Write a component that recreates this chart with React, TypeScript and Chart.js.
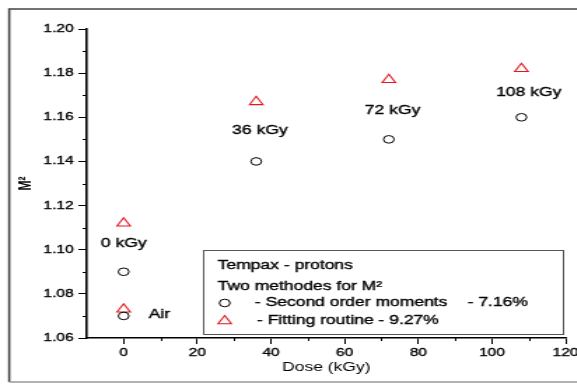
import React, { useEffect, useRef } from "react";
import { Chart, registerables } from "chart.js";

Chart.register(...registerables);

// ---- data ----
const doses = [0, 36, 72, 108];
const secondOrderMoments = [1.09, 1.14, 1.15, 1.16];
const fittingRoutine = [1.112, 1.167, 1.177, 1.182];
const airDose = [0];
const airSecondOrder = [1.07];
const airFitting = [1.073];

const xTicks = [0, 20, 40, 60, 80, 100, 120];
const xMinorTicks = [10, 30, 50, 70, 90, 110];
const yTicks = [1.06, 1.08, 1.1, 1.12, 1.14, 1.16, 1.18, 1.2];
const yMinorTicks = [1.07, 1.09, 1.11, 1.13, 1.15, 1.17, 1.19];

const pointLabels = ["0 kGy", "36 kGy", "72 kGy", "108 kGy"];
const pointLabelX = [0, 37, 73, 110];
const pointLabelY = [1.103, 1.154, 1.163, 1.171];
const airLabel = "Air";
const airLabelX = [6.8];
const airLabelY = [1.0707];

const legendTitle1 = "Tempax - protons";
const legendTitle2 = "Two methodes for M\u00B2";
const legendSeries1 = "- Second order moments";
const legendSeries1Pct = "- 7.16%";
const legendSeries2 = "- Fitting routine - 9.27%";

const xTitle = "Dose (kGy)";
const yTitle = "M\u00B2";

// ---- layout (canvas is drawn narrow, then stretched horizontally) ----
const STRETCH = 1.4;
const W = 412;
const H = 384;
const RED = "rgb(228,24,32)";
const FONT = "'Liberation Sans', Arial, sans-serif";
const TEXT_STROKE = 0.35;

function drawTriangle(ctx: CanvasRenderingContext2D, x: number, y: number, r: number) {
  let rad = 0;
  ctx.beginPath();
  for (let i = 0; i < 3; i++) {
    const px = x + Math.sin(rad) * r;
    const py = y - Math.cos(rad) * r;
    if (i === 0) ctx.moveTo(px, py);
    else ctx.lineTo(px, py);
    rad += (2 * Math.PI) / 3;
  }
  ctx.closePath();
  ctx.stroke();
}

function heavyText(ctx: CanvasRenderingContext2D, t: string, x: number, y: number) {
  ctx.fillText(t, x, y);
  ctx.strokeText(t, x, y);
}

const decorPlugin = {
  id: "decor",
  beforeDraw(chart: any) {
    const ctx = chart.ctx as CanvasRenderingContext2D;
    ctx.save();
    ctx.fillStyle = "#fff";
    ctx.fillRect(0, 0, chart.width, chart.height);
    // outer frame
    ctx.strokeStyle = "#444";
    ctx.lineWidth = 1.6;
    ctx.beginPath();
    ctx.moveTo(6.6, 382);
    ctx.lineTo(6.6, 9);
    ctx.lineTo(chart.width + 2, 9);
    ctx.stroke();
    ctx.strokeStyle = "#999";
    ctx.lineWidth = 1.3;
    ctx.beginPath();
    ctx.moveTo(6.6, 382);
    ctx.lineTo(chart.width + 2, 382);
    ctx.stroke();
    ctx.restore();
  },
  afterDraw(chart: any) {
    const ctx = chart.ctx as CanvasRenderingContext2D;
    const xs = chart.scales.x;
    const ys = chart.scales.y;
    const area = chart.chartArea;
    ctx.save();
    // minor ticks
    ctx.strokeStyle = "#000";
    ctx.lineWidth = 1;
    ctx.beginPath();
    xMinorTicks.forEach((v) => {
      const px = Math.round(xs.getPixelForValue(v)) + 0.5;
      ctx.moveTo(px, area.bottom);
      ctx.lineTo(px, area.bottom + 3);
    });
    yMinorTicks.forEach((v) => {
      const py = Math.round(ys.getPixelForValue(v)) + 0.5;
      ctx.moveTo(area.left, py);
      ctx.lineTo(area.left - 3, py);
    });
    ctx.stroke();

    // point annotations
    ctx.fillStyle = "#000";
    ctx.strokeStyle = "#000";
    ctx.lineWidth = TEXT_STROKE;
    ctx.font = `12.5px ${FONT}`;
    ctx.textBaseline = "middle";
    ctx.textAlign = "center";
    pointLabels.forEach((t, i) => {
      heavyText(ctx, t, xs.getPixelForValue(pointLabelX[i]), ys.getPixelForValue(pointLabelY[i]));
    });
    ctx.textAlign = "left";
    heavyText(ctx, airLabel, xs.getPixelForValue(airLabelX[0]), ys.getPixelForValue(airLabelY[0]));

    // legend box
    const bl = area.left + 83;
    const br = area.right - 2;
    const bt = area.top + 221;
    const bb = area.bottom - 4;
    ctx.strokeStyle = "#555";
    ctx.lineWidth = 1;
    ctx.strokeRect(bl + 0.5, bt + 0.5, br - bl, bb - bt);
    const tx = bl + 10.5;
    ctx.strokeStyle = "#000";
    ctx.lineWidth = TEXT_STROKE;
    heavyText(ctx, legendTitle1, tx, bt + 16);
    heavyText(ctx, legendTitle2, tx, bt + 36.5);
    heavyText(ctx, legendSeries1, tx + 26.5, bt + 53);
    heavyText(ctx, legendSeries1Pct, tx + 178.5, bt + 53);
    heavyText(ctx, legendSeries2, tx + 28, bt + 70.5);
    ctx.strokeStyle = "#000";
    ctx.lineWidth = 1;
    ctx.beginPath();
    ctx.arc(tx + 5, bt + 53, 3.8, 0, Math.PI * 2);
    ctx.stroke();
    ctx.strokeStyle = RED;
    ctx.lineWidth = 1.1;
    drawTriangle(ctx, tx + 5, bt + 71, 5.5);
    ctx.restore();
  },
};

export default function App() {
  const canvasRef = useRef<HTMLCanvasElement | null>(null);

  useEffect(() => {
    const canvas = canvasRef.current;
    if (!canvas) return;
    const mk = (xs: number[], ys: number[]) => xs.map((x, i) => ({ x, y: ys[i] }));
    const chart = new Chart(canvas, {
      type: "scatter",
      data: {
        datasets: [
          {
            label: "Second order moments",
            data: [...mk(doses, secondOrderMoments), ...mk(airDose, airSecondOrder)],
            pointStyle: "circle",
            pointRadius: 3.8,
            borderColor: "#000",
            backgroundColor: "rgba(0,0,0,0)",
            borderWidth: 1,
          },
          {
            label: "Fitting routine",
            data: [...mk(doses, fittingRoutine), ...mk(airDose, airFitting)],
            pointStyle: "triangle",
            pointRadius: 5.5,
            borderColor: RED,
            backgroundColor: "rgba(0,0,0,0)",
            borderWidth: 1.1,
          },
        ],
      },
      options: {
        animation: false,
        responsive: false,
        events: [],
        layout: { padding: { top: 29, right: 8, left: 0, bottom: 0 } },
        plugins: {
          legend: { display: false },
          tooltip: { enabled: false },
        },
        scales: {
          x: {
            type: "linear",
            min: -10,
            max: 120,
            afterBuildTicks: (s: any) => {
              s.ticks = xTicks.map((v) => ({ value: v }));
            },
            afterFit: (s: any) => {
              s.height = 46;
              s.paddingRight = 0;
              s.paddingLeft = 0;
            },
            grid: {
              display: true,
              drawOnChartArea: false,
              drawTicks: true,
              tickLength: 6,
              color: "#000",
              lineWidth: 1,
            },
            border: { display: true, color: "#000", width: 1.6 },
            ticks: {
              color: "#000",
              textStrokeColor: "#000",
              textStrokeWidth: TEXT_STROKE,
              font: { family: FONT, size: 11 },
              padding: 2,
              maxRotation: 0,
              autoSkip: false,
              callback: (v: any) => String(v),
            },
            title: {
              display: true,
              text: xTitle,
              color: "#000",
              font: { family: FONT, size: 12.5 },
              padding: { top: 0, bottom: 9 },
            },
          },
          y: {
            type: "linear",
            min: 1.06,
            max: 1.2,
            afterBuildTicks: (s: any) => {
              s.ticks = yTicks.map((v) => ({ value: v }));
            },
            afterFit: (s: any) => {
              s.width = 62;
            },
            grid: {
              display: true,
              drawOnChartArea: false,
              drawTicks: true,
              tickLength: 6,
              color: "#000",
              lineWidth: 1,
            },
            border: { display: true, color: "#000", width: 1.6 },
            ticks: {
              color: "#000",
              textStrokeColor: "#000",
              textStrokeWidth: TEXT_STROKE,
              font: { family: FONT, size: 11 },
              padding: 3.5,
              autoSkip: false,
              callback: (v: any) => Number(v).toFixed(2),
            },
            title: {
              display: true,
              text: yTitle,
              color: "#000",
              font: { family: FONT, size: 12, weight: "bold" },
              padding: { top: 11, bottom: 0 },
            },
          },
        },
      },
      plugins: [decorPlugin],
    } as any);
    return () => chart.destroy();
  }, []);

  return (
    <div
      style={{
        position: "absolute",
        left: 0,
        top: 0,
        width: W,
        height: H,
        transform: `scaleX(${STRETCH})`,
        transformOrigin: "0 0",
      }}
    >
      <canvas ref={canvasRef} width={W} height={H} />
    </div>
  );
}
